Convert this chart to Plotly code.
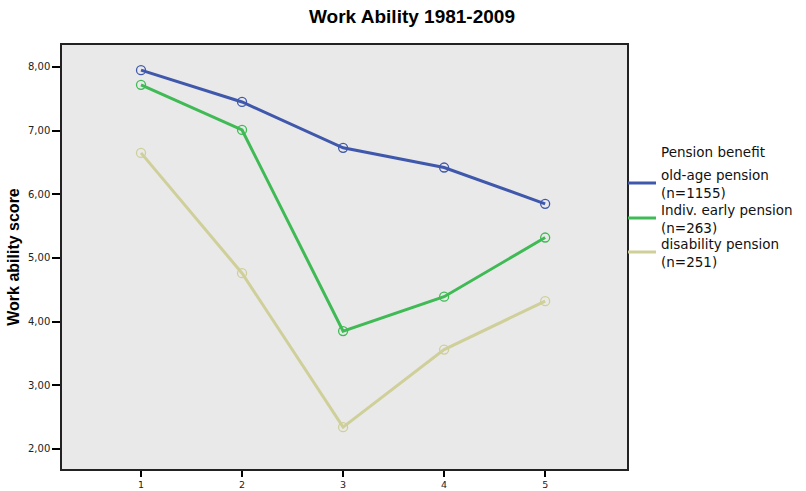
import plotly.graph_objects as go

x_vals = [1, 2, 3, 4, 5]
old_age = [7.95, 7.45, 6.73, 6.42, 5.85]
early = [7.72, 7.01, 3.85, 4.39, 5.32]
disability = [6.65, 4.76, 2.34, 3.56, 4.32]
series_line1 = ["old-age pension", "Indiv. early pension", "disability pension"]
series_line2 = ["(n=1155)", "(n=263)", "(n=251)"]
colors = ["#3f58ac", "#3fba55", "#cfcf9a"]
y_ticks = [2, 3, 4, 5, 6, 7, 8]
y_tick_labels = ["2,00", "3,00", "4,00", "5,00", "6,00", "7,00", "8,00"]
legend_title = "Pension benefit"

W, H = 806, 491
L, R, T, B = 62, 627, 45, 469

def px_x(p):
    return (p - L) / (R - L)

def px_y(p):
    return (B - p) / (B - T)

fig = go.Figure()
for vals, n1, n2, c in zip([old_age, early, disability], series_line1, series_line2, colors):
    fig.add_trace(go.Scatter(
        x=x_vals, y=vals, name=n1 + " " + n2, mode="lines+markers",
        line=dict(color=c, width=3),
        marker=dict(symbol="circle-open", size=9, color=c, line=dict(width=1.3, color=c)),
        showlegend=False,
    ))

legend_font = dict(family="DejaVu Sans", size=13.5, color="#111")
annotations = [dict(text=legend_title, xref="paper", yref="paper", x=px_x(660), y=px_y(152),
                    xanchor="left", yanchor="middle", showarrow=False, font=legend_font, borderpad=0)]
shapes = []
line_ys = [183, 218, 252]
for i, (n1, n2, c) in enumerate(zip(series_line1, series_line2, colors)):
    ly = line_ys[i]
    shapes.append(dict(type="line", xref="paper", yref="paper", x0=px_x(628), x1=px_x(656),
                       y0=px_y(ly), y1=px_y(ly), line=dict(color=c, width=3)))
    annotations.append(dict(text=n1 + "<br>" + n2, xref="paper", yref="paper", x=px_x(660), y=px_y(ly + 1),
                            xanchor="left", yanchor="middle", align="left", showarrow=False,
                            font=legend_font, borderpad=0))

fig.update_layout(
    width=W, height=H,
    margin=dict(l=L, r=W - R, t=T, b=H - B),
    paper_bgcolor="white", plot_bgcolor="#e9e9e9",
    font=dict(family="Liberation Sans, Arial", color="#222"),
    title=dict(text="<b>Work Ability 1981-2009</b>", x=412 / W, xanchor="center",
               y=1 - 16 / H, yanchor="middle", yref="container",
               font=dict(family="Liberation Sans, Arial", size=19, color="black")),
    showlegend=False,
    annotations=annotations,
    shapes=shapes,
    xaxis=dict(
        range=[0.218, 5.81], tickvals=x_vals, ticktext=[str(v) for v in x_vals],
        showgrid=False, zeroline=False, ticks="outside", ticklen=6, tickwidth=1.5, tickcolor="black",
        showline=True, linecolor="#222", linewidth=1.5, mirror=True, automargin=False,
        tickfont=dict(family="DejaVu Sans", size=9.5, color="#222"),
    ),
    yaxis=dict(
        range=[1.683, 8.345], tickvals=y_ticks, ticktext=y_tick_labels,
        showgrid=False, zeroline=False, ticks="outside", ticklen=8, tickwidth=1.5, tickcolor="black",
        showline=True, linecolor="#222", linewidth=1.5, mirror=True, automargin=False,
        tickfont=dict(family="DejaVu Sans", size=10, color="#222"),
        title=dict(text="<b>Work ability score</b>", font=dict(family="Liberation Sans, Arial", size=16, color="black"),
                   standoff=4),
    ),
)

fig.write_html("out.html", config={"displayModeBar": False},
               post_script="document.body.style.margin='0';document.body.style.padding='0';")
